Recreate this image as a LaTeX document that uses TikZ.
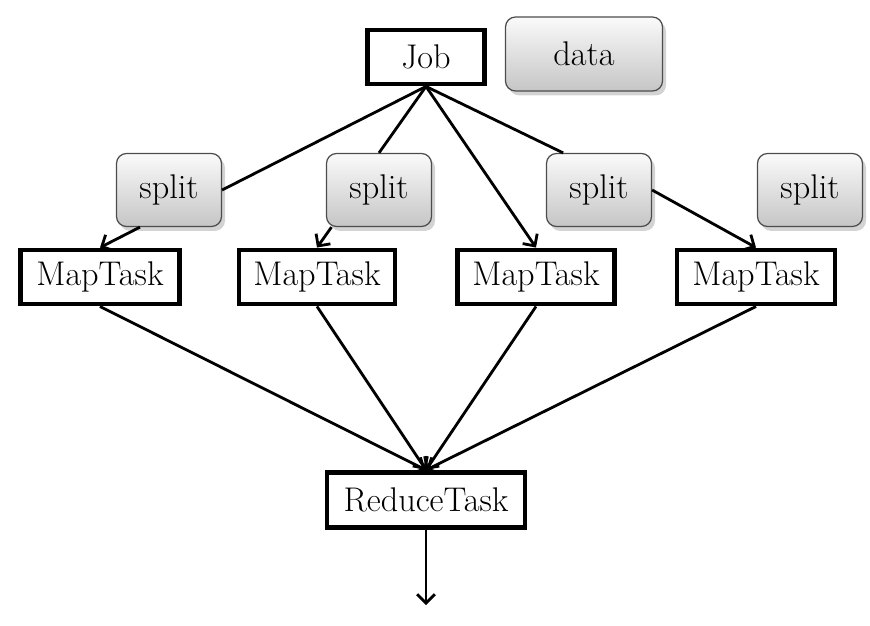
\documentclass[tikz,border=0pt]{standalone}
\usetikzlibrary{shadows,arrows.meta}
\begin{document}
\begin{tikzpicture}[x=0.02cm,y=-0.02cm,>={Straight Barb[length=5pt,width=10pt]},line width=1.6pt,
		task/.style={draw,line width=2.8pt,fill=white,inner sep=0pt,minimum height=1.08cm,font=\fontsize{19.5}{22}\selectfont},
		chunk/.style={draw=black!70,line width=0.7pt,rounded corners=0.2cm,top color=gray!4,bottom color=gray!45,drop shadow={shadow xshift=2pt,shadow yshift=-2.5pt,opacity=0.35},inner sep=0pt,minimum width=2.1cm,minimum height=1.46cm,font=\fontsize{19.5}{22}\selectfont}]
		\useasboundingbox (0,0) rectangle (870,626);
		\node[task,minimum width=2.34cm] (job) at (426,57) {Job};
		\node[chunk,minimum width=3.14cm,minimum height=1.48cm] (data) at (584,54) {data};
		\node[chunk] (split1) at (169,190) {split};
		\node[chunk] (split2) at (379,190) {split};
		\node[chunk] (split3) at (599,190) {split};
		\node[chunk] (split4) at (810,190) {split};
		\node[task,minimum width=3.18cm] (map1) at (100,277) {MapTask};
		\node[task,minimum width=3.12cm] (map2) at (317,277) {MapTask};
		\node[task,minimum width=3.14cm] (map3) at (536,277) {MapTask};
		\node[task,minimum width=3.16cm] (map4) at (756,277) {MapTask};
		\node[task,minimum width=3.96cm,minimum height=1.1cm] (reduce) at (426,500) {ReduceTask};
		\coordinate (out) at (426,605);
		\draw (job.south) -- (split1.east);
		\draw (job.south) -- (split2.north);
		\draw[->] (job.south) -- (map3.north);
		\draw (job.south) -- (split3.134);
		\draw[->] (split1.232) -- (map1.north);
		\draw[->] (split2.218) -- (map2.north);
		\draw[->] (split3.east) -- (map4.north);
		\draw[->] (map1.south) -- (reduce.north);
		\draw[->] (map2.south) -- (reduce.north);
		\draw[->] (map3.south) -- (reduce.north);
		\draw[->] (map4.south) -- (reduce.north);
		\draw[->] (reduce.south) -- (out);
		\end{tikzpicture}
\end{document}
